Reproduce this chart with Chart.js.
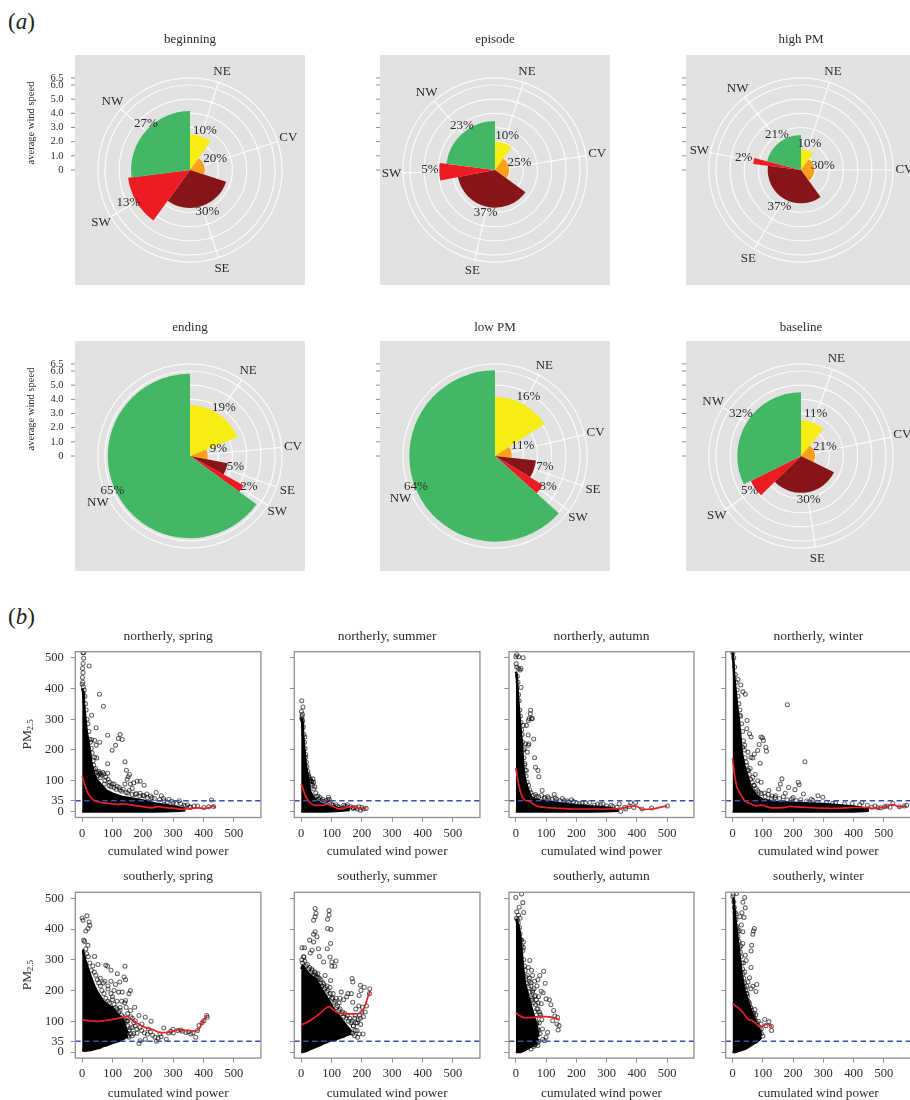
<!DOCTYPE html>
<html><head><meta charset="utf-8">
<script src="https://cdn.jsdelivr.net/npm/chart.js@4"></script>
<style>
html,body{margin:0;padding:0;background:#fff;overflow:hidden;width:910px;height:1100px}
#page{position:relative;width:910px;height:1100px;overflow:hidden}
canvas{position:absolute}
.tag{position:absolute;left:8px;font:23px "Liberation Serif",serif;color:#222;line-height:26px}
.tag i{font-style:italic}
</style></head><body>
<div id="page">
<div class="tag" style="top:9px">(<i>a</i>)</div>
<div class="tag" style="top:604px">(<i>b</i>)</div>
</div>
<script>
// ---------- part (a): wind roses ----------
const windDirs = ['NE','CV','SE','SW','NW'];
const windColors = ['#f7ec13','#f9a11b','#871416','#ed1c24','#43b864'];
const speedTicks = [0,1,2,3,4,5,6,6.5];
const speedTickLabels = ['0','1.0','2.0','3.0','4.0','5.0','6.0','6.5'];

const beginningShare = [10,20,30,13,27];
const beginningSpeed = [2.5,1.05,2.68,4.4,4.16];
const beginningPctAt = [3.0,1.95,3.15,4.9,4.5];
const beginningPctDeg = [20.4,65.6,157.2,242.3,316.3];
const episodeShare = [10,25,37,5,23];
const episodeSpeed = [2.0,1.0,2.66,3.93,3.46];
const episodePctAt = [2.6,1.8,3.1,4.6,3.9];
const episodePctDeg = [19.4,73.2,192.2,270,323.1];
const highShare = [10,30,37,2,21];
const highSpeed = [1.46,0.94,2.35,3.4,2.47];
const highPctAt = [1.93,1.58,3.0,4.14,3.0];
const highPctDeg = [17.8,78.9,210.6,282.1,325.6];
const endingShare = [19,9,5,2,65];
const endingSpeed = [3.58,1.24,2.7,4.3,5.8];
const endingPctAt = [4.2,2.07,3.3,4.7,6.0];
const endingPctDeg = [34.8,75.5,103.6,117.6,245.8];
const lowShare = [16,11,7,3,64];
const lowSpeed = [4.16,1.18,2.9,3.95,6.05];
const lowPctAt = [4.8,2.1,3.6,4.35,6.0];
const lowPctDeg = [29.4,68.9,102.4,120.2,248.7];
const baseShare = [11,21,30,5,32];
const baseSpeed = [2.5,1.0,2.6,3.96,4.5];
const basePctAt = [3.16,1.8,3.1,4.36,5.2];
const basePctDeg = [19.1,69.2,170,236.2,305.5];

// ---------- part (b): PM2.5 against cumulated wind power ----------
const powerTicks = [0,100,200,300,400,500];
const pmTicks = [0,35,100,200,300,400,500];
const pmStandard = 35;

const nSpringCloudX = [0,3,6,10,15,20,25,30,40,50,60,80,100,130,160,200,240,280,320,340];
const nSpringCloudTop = [400,390,350,310,260,230,200,160,120,100,90,68,58,48,43,36,26,20,13,8];
const nSpringCloudLow = [0,0,0,0,0,0,0,0,0,0,0,0,0,0,0,0,0,1,2,4];
const nSpringPoints = [[3,516],[5,516],[5,498],[3,481],[1,465],[23,473],[3,451],[1,436],[0,414],[57,381],[70,342],[31,313],[46,272],[58,225],[84,248],[125,250],[119,237],[132,234],[110,215],[99,199],[141,162],[84,155],[146,134],[156,120],[152,113],[148,105],[191,98],[181,98],[204,85],[170,93],[159,89],[141,89],[41,231],[31,233],[46,215],[41,176],[48,174],[39,136],[68,127],[84,124],[57,122],[52,117],[105,89],[89,84],[73,89],[122,78],[165,75],[191,59],[213,57],[244,62],[261,51],[286,40],[320,35],[347,22],[380,18],[426,37],[433,16],[401,13],[369,18],[417,15],[356,13],[60,110],[75,100],[95,80],[112,72],[130,66],[150,60],[175,55],[205,50],[230,45],[270,35],[300,28],[335,20]];
const nSpringEdge = [[2,420],[4,405],[7,395],[9,375],[11,350],[13,330],[16,300],[19,285],[22,260],[24,235],[27,225],[30,205],[33,190],[36,165],[38,150],[44,140],[47,128],[52,125],[55,130],[60,125],[65,118],[72,122],[78,112],[85,105],[90,95],[98,90],[105,78],[115,82],[125,70],[135,72],[145,62],[155,68],[165,55],[178,58],[190,50],[200,52],[215,45],[225,50],[238,42],[255,38],[268,42],[280,30],[295,33],[310,25],[325,25],[340,18],[355,15]];
const nSpringCurve = [[0,115],[5,100],[10,82],[15,68],[20,58],[30,44],[40,36],[60,30],[80,27],[100,25],[120,23],[130,25],[150,23],[170,20],[200,16],[230,12],[250,16],[270,13],[300,11],[330,7],[350,9],[380,12],[400,10],[420,13],[430,18],[440,12]];

const nSummerCloudX = [0,3,6,10,15,20,25,30,40,50,60,80,100,130,160];
const nSummerCloudTop = [305,295,255,210,155,125,90,65,47,37,26,20,16,9,7];
const nSummerCloudLow = [0,0,0,0,0,0,0,0,0,0,0,0,1,2,5];
const nSummerPoints = [[2,360],[6,340],[4,316],[2,302],[12,242],[15,176],[23,120],[39,106],[33,89],[42,73],[58,40],[90,46],[93,40],[82,35],[109,15],[131,8],[152,22],[163,15],[179,13],[195,4],[214,10],[200,13],[190,15],[136,11],[30,100],[36,96],[26,110],[50,48],[66,36],[72,32],[100,24],[120,18],[145,18],[172,10],[185,8],[205,8]];
const nSummerEdge = [[1,325],[3,310],[5,295],[7,275],[9,250],[11,225],[13,205],[15,185],[17,160],[19,145],[22,130],[25,115],[28,100],[31,105],[34,98],[37,85],[41,95],[45,80],[48,60],[55,50],[62,45],[70,40],[78,30],[88,38],[95,30],[105,20],[115,22],[125,14],[140,20],[150,15],[170,12]];
const nSummerCurve = [[0,90],[5,78],[10,62],[15,50],[20,40],[30,28],[40,22],[50,20],[70,20],[85,24],[100,18],[120,10],[135,8],[155,14],[175,14],[195,10],[215,12]];

const nAutumnCloudX = [0,3,6,10,15,20,25,30,40,50,60,80,100,150,200,250,300,340];
const nAutumnCloudTop = [455,445,395,335,275,225,145,105,72,48,40,36,33,26,20,16,13,6];
const nAutumnCloudLow = [0,0,0,0,0,0,0,0,0,0,0,0,0,0,0,0,1,2];
const nAutumnPoints = [[3,510],[0,503],[9,503],[24,500],[9,465],[17,465],[14,460],[17,403],[49,329],[48,318],[44,302],[52,302],[55,302],[41,296],[35,280],[25,280],[41,249],[59,236],[32,220],[41,215],[43,220],[28,204],[38,193],[62,175],[65,144],[73,133],[76,113],[30,155],[35,133],[87,68],[127,55],[154,42],[184,38],[95,46],[68,49],[245,29],[202,26],[288,24],[342,24],[380,29],[396,29],[347,0],[363,8],[390,13],[501,18],[417,8],[449,11],[110,44],[135,40],[170,34],[220,28],[270,24],[315,20],[360,14],[375,16]];
const nAutumnEdge = [[1,480],[3,470],[5,440],[7,420],[9,380],[11,360],[13,330],[15,310],[17,290],[19,265],[21,250],[23,225],[25,200],[27,175],[29,150],[31,135],[34,115],[38,95],[42,85],[46,70],[50,62],[58,52],[65,55],[75,48],[85,52],[95,42],[105,48],[120,40],[130,44],[145,35],[160,36],[175,30],[190,32],[210,25],[230,28],[260,20],[280,22],[300,18],[320,16],[335,14]];
const nAutumnCurve = [[0,142],[3,125],[6,105],[10,85],[15,65],[20,50],[30,37],[45,33],[60,22],[80,15],[100,13],[150,10],[200,8],[250,8],[300,8],[340,9],[360,13],[380,17],[395,18],[420,7],[450,8],[480,14],[500,18]];

const nWinterCloudX = [0,3,6,10,15,20,25,30,40,50,60,80,100,150,200,250,300,350,400,450];
const nWinterCloudTop = [520,485,435,395,345,305,255,195,145,115,78,52,38,30,28,26,24,20,16,8];
const nWinterCloudLow = [0,0,0,0,0,0,0,0,0,0,0,0,0,0,0,0,0,0,0,2];
const nWinterPoints = [[181,347],[239,162],[18,429],[27,411],[42,381],[34,389],[24,313],[48,296],[47,269],[56,253],[61,242],[94,242],[99,240],[102,231],[88,218],[110,209],[112,196],[83,198],[72,187],[61,176],[91,157],[40,215],[34,209],[51,193],[67,174],[53,133],[67,111],[83,100],[94,95],[72,84],[61,78],[83,68],[120,68],[163,106],[158,89],[152,73],[185,78],[217,95],[220,87],[206,71],[234,57],[282,51],[298,46],[142,51],[174,59],[330,26],[427,29],[470,18],[529,26],[567,18],[502,15],[551,15],[480,12],[520,14],[575,20],[45,160],[58,140],[75,120],[105,60],[130,50],[200,45],[260,40]];
const nWinterEdge = [[1,515],[4,500],[7,470],[9,445],[12,420],[15,395],[18,375],[21,350],[24,330],[27,310],[30,285],[33,260],[36,230],[39,200],[42,175],[46,150],[50,135],[55,120],[60,105],[65,95],[70,85],[78,75],[88,62],[95,58],[108,48],[118,55],[128,42],[140,45],[155,42],[168,48],[180,38],[195,40],[210,35],[225,38],[245,34],[265,36],[280,30],[310,30],[340,28],[370,24],[395,26],[420,22],[445,20],[460,14],[490,12],[510,18]];
const nWinterCurve = [[0,172],[3,150],[6,125],[10,100],[15,78],[20,68],[30,50],[40,35],[50,28],[60,25],[80,18],[85,20],[100,20],[115,15],[130,12],[150,12],[180,14],[190,17],[210,15],[250,13],[300,11],[350,10],[400,13],[440,13],[460,10],[500,14],[530,22],[550,15],[570,18]];

const sSpringCloudX = [0,3,10,20,30,40,50,60,70,80,100,120,135,140,150];
const sSpringCloudTop = [330,330,300,270,240,215,195,180,165,155,145,120,105,90,60];
const sSpringCloudLow = [5,5,4,6,7,10,12,15,20,22,30,36,42,45,52];
const sSpringPoints = [[0,436],[16,443],[3,429],[23,423],[25,412],[19,402],[12,394],[5,364],[19,347],[41,311],[52,285],[78,282],[84,279],[141,279],[95,266],[116,255],[138,244],[143,235],[124,228],[159,200],[154,190],[132,195],[105,200],[143,168],[173,146],[187,119],[208,113],[227,100],[197,91],[218,75],[181,61],[165,53],[187,28],[191,37],[208,42],[240,48],[245,35],[269,78],[256,59],[277,42],[299,74],[315,70],[342,64],[358,59],[374,48],[385,86],[401,102],[412,113],[410,119],[380,70],[159,135],[148,102],[175,102],[138,70],[154,48],[127,59],[60,240],[70,225],[85,205],[100,180],[115,165],[125,145],[150,125],[165,110],[190,80],[225,65],[260,50],[300,62],[330,68],[365,62],[395,95]];
const sSpringEdge = [[60,215],[65,200],[72,190],[78,175],[85,165],[90,160],[95,190],[100,170],[105,155],[110,145],[115,140],[120,130],[125,135],[130,120],[135,115],[140,105],[145,100],[150,85],[155,70],[160,60],[150,100],[160,115],[170,95],[175,85],[180,75],[165,80],[170,60],[35,280],[40,260],[45,250],[50,235],[55,225],[25,290],[20,310],[15,320],[12,335],[8,360],[30,265],[75,230],[85,215],[95,230],[110,220],[120,195],[130,165],[140,160],[145,145],[90,45],[105,42],[120,46],[135,50],[150,52],[148,62],[158,78],[196,70],[205,62],[215,58],[232,55],[250,45],[285,62],[292,68],[325,72],[350,66]];
const sSpringCurve = [[0,105],[20,102],[50,100],[80,103],[110,108],[130,112],[150,115],[165,105],[180,95],[200,83],[230,74],[260,63],[280,63],[300,68],[320,73],[345,70],[370,68],[385,75],[395,95],[412,121]];

const sSummerCloudX = [0,5,10,20,30,50,70,90,110,130,150,165];
const sSummerCloudTop = [270,280,275,260,250,235,200,170,135,110,85,65];
const sSummerCloudLow = [0,0,2,5,10,18,27,35,40,47,55,60];
const sSummerPoints = [[46,467],[49,451],[46,440],[41,429],[92,460],[92,446],[87,432],[87,402],[98,399],[46,391],[41,383],[52,375],[28,364],[41,358],[97,353],[3,339],[11,339],[57,336],[86,336],[36,331],[30,322],[9,309],[60,311],[95,309],[101,293],[115,296],[74,293],[101,279],[111,279],[79,249],[168,239],[170,228],[97,233],[195,217],[208,211],[197,200],[226,206],[154,190],[132,195],[165,190],[191,184],[170,162],[202,146],[211,130],[138,81],[165,64],[176,53],[191,59],[204,59],[186,48],[138,53],[111,42],[62,26],[122,59],[180,140],[190,150],[178,120],[195,110],[185,95],[172,85],[205,115],[215,150],[225,190],[150,180],[140,170],[128,175]];
const sSummerEdge = [[2,300],[5,290],[8,310],[12,295],[16,280],[20,285],[24,270],[28,275],[32,260],[36,265],[40,250],[44,250],[48,255],[52,245],[56,240],[60,240],[64,225],[68,215],[72,225],[76,205],[80,210],[84,195],[88,200],[92,180],[96,190],[100,175],[104,175],[108,160],[112,165],[116,145],[120,150],[124,135],[128,140],[132,125],[136,130],[140,115],[144,125],[148,110],[152,118],[156,100],[160,110],[164,95],[168,100],[172,85],[176,110],[180,95],[184,70],[188,105],[192,120],[196,90],[200,130],[100,55],[108,60],[116,70],[124,80],[130,65],[142,70],[150,65],[158,70],[170,60],[178,70],[35,270],[45,260],[55,255],[65,235],[75,220],[85,215],[95,210],[105,190],[115,175],[125,160]];
const sSummerCurve = [[0,88],[20,97],[40,110],[60,124],[80,142],[92,148],[105,138],[120,128],[140,125],[165,124],[190,125],[200,132],[210,150],[220,180],[228,199]];

const sAutumnCloudX = [0,3,10,15,20,25,30,40,50,60,70,75];
const sAutumnCloudTop = [429,429,407,375,320,266,225,185,150,115,80,50];
const sAutumnCloudLow = [0,0,0,0,2,4,6,12,18,24,36,42];
const sAutumnPoints = [[0,503],[19,514],[23,486],[26,454],[11,471],[3,456],[9,445],[14,435],[19,364],[25,358],[25,340],[46,298],[41,275],[52,266],[92,263],[55,249],[79,249],[73,235],[97,224],[84,198],[90,193],[60,206],[65,184],[100,173],[111,170],[84,157],[116,154],[125,135],[52,168],[73,141],[79,124],[129,117],[138,113],[122,102],[136,91],[143,86],[140,72],[105,64],[100,48],[89,42],[95,37],[73,21],[62,23],[62,81],[57,64],[68,91],[45,240],[50,225],[62,230],[70,215],[55,195],[48,180],[75,180],[78,95],[72,75]];
const sAutumnEdge = [[2,435],[5,430],[8,420],[12,405],[14,385],[17,365],[20,345],[23,330],[26,300],[29,280],[31,265],[33,245],[36,225],[38,250],[42,210],[44,230],[47,195],[50,215],[53,175],[56,200],[58,160],[62,180],[65,155],[68,170],[70,140],[74,160],[78,130],[82,120],[86,105],[62,130],[66,110],[70,95],[74,70],[80,60],[88,75],[50,10],[58,18],[64,25],[70,30],[76,35]];
const sAutumnCurve = [[0,128],[10,120],[25,113],[40,112],[60,113],[80,115],[100,115],[120,113],[135,108],[145,104]];

const sWinterCloudX = [0,3,10,15,20,25,30,40,50,60,70,80,90,95];
const sWinterCloudTop = [500,500,429,385,342,298,255,200,168,135,113,91,70,53];
const sWinterCloudLow = [0,0,0,2,4,5,7,10,15,22,28,33,42,48];
const sWinterPoints = [[2,513],[13,516],[40,503],[34,487],[42,469],[31,453],[24,440],[38,438],[29,413],[18,391],[34,391],[72,402],[69,394],[67,383],[34,353],[63,347],[61,329],[42,315],[45,298],[61,275],[56,242],[51,228],[67,214],[80,220],[77,197],[61,206],[74,138],[77,121],[106,106],[120,99],[94,91],[128,84],[129,70],[110,86],[83,70],[61,37],[72,53],[48,190],[45,170],[55,160],[60,145],[70,125],[85,100],[95,75]];
const sWinterEdge = [[1,505],[4,490],[6,470],[8,455],[11,430],[13,410],[16,400],[18,375],[21,360],[23,340],[26,325],[28,310],[31,290],[33,270],[35,255],[37,240],[39,225],[41,210],[44,200],[46,190],[49,180],[52,165],[55,155],[58,145],[62,135],[65,125],[68,118],[72,110],[76,102],[80,95],[85,85],[90,72],[95,60],[100,52],[40,260],[36,290],[28,345],[22,395],[12,450],[47,215]];
const sWinterCurve = [[0,157],[10,150],[20,143],[35,128],[50,108],[65,102],[75,95],[90,82],[100,84],[110,90],[120,90],[130,82]];

// ---------- layout and styling ----------
const SERIF = '"Liberation Serif", "Times New Roman", serif';
const TEXT = '#2b2b2b';
const polarPanels = [
  {title:'beginning',left:75,top:55,gap:15,share:beginningShare,speed:beginningSpeed,pctAt:beginningPctAt,pctDeg:beginningPctDeg,axis:true},
  {title:'episode',left:380,top:55,gap:15,share:episodeShare,speed:episodeSpeed,pctAt:episodePctAt,pctDeg:episodePctDeg},
  {title:'high PM',left:686,top:55,gap:15,share:highShare,speed:highSpeed,pctAt:highPctAt,pctDeg:highPctDeg},
  {title:'ending',left:75,top:341,gap:13,share:endingShare,speed:endingSpeed,pctAt:endingPctAt,pctDeg:endingPctDeg,axis:true},
  {title:'low PM',left:380,top:341,gap:13,share:lowShare,speed:lowSpeed,pctAt:lowPctAt,pctDeg:lowPctDeg},
  {title:'baseline',left:686,top:341,gap:13,share:baseShare,speed:baseSpeed,pctAt:basePctAt,pctDeg:basePctDeg}
];
const frameLefts = [75.3,294.3,509,725.7];
const rowTops = [{top:651.7,foot:41.5},{top:892.3,foot:42.9}];
const scatterPanels = [
  {title:'northerly, spring',c:0,r:0,x:nSpringCloudX,hi:nSpringCloudTop,lo:nSpringCloudLow,pts:nSpringPoints.concat(nSpringEdge),curve:nSpringCurve},
  {title:'northerly, summer',c:1,r:0,x:nSummerCloudX,hi:nSummerCloudTop,lo:nSummerCloudLow,pts:nSummerPoints.concat(nSummerEdge),curve:nSummerCurve},
  {title:'northerly, autumn',c:2,r:0,x:nAutumnCloudX,hi:nAutumnCloudTop,lo:nAutumnCloudLow,pts:nAutumnPoints.concat(nAutumnEdge),curve:nAutumnCurve},
  {title:'northerly, winter',c:3,r:0,x:nWinterCloudX,hi:nWinterCloudTop,lo:nWinterCloudLow,pts:nWinterPoints.concat(nWinterEdge),curve:nWinterCurve},
  {title:'southerly, spring',c:0,r:1,x:sSpringCloudX,hi:sSpringCloudTop,lo:sSpringCloudLow,pts:sSpringPoints.concat(sSpringEdge),curve:sSpringCurve},
  {title:'southerly, summer',c:1,r:1,x:sSummerCloudX,hi:sSummerCloudTop,lo:sSummerCloudLow,pts:sSummerPoints.concat(sSummerEdge),curve:sSummerCurve},
  {title:'southerly, autumn',c:2,r:1,x:sAutumnCloudX,hi:sAutumnCloudTop,lo:sAutumnCloudLow,pts:sAutumnPoints.concat(sAutumnEdge),curve:sAutumnCurve},
  {title:'southerly, winter',c:3,r:1,x:sWinterCloudX,hi:sWinterCloudTop,lo:sWinterCloudLow,pts:sWinterPoints.concat(sWinterEdge),curve:sWinterCurve}
];
const page = document.getElementById('page');
function addCanvas(l,t,w,h){
  const c=document.createElement('canvas');
  c.width=w;c.height=h;c.style.left=l+'px';c.style.top=t+'px';c.style.width=w+'px';c.style.height=h+'px';
  page.appendChild(c);return c;
}
Chart.defaults.font.family = SERIF;
Chart.defaults.animation = false;

// wind rose
function rosePlugin(p){
  const mids=[];let run=0;const tot=p.share.reduce((a,b)=>a+b,0);
  p.share.forEach(s=>{mids.push((run+s/2)/tot*360);run+=s;});
  function at(sc,deg,v){const d=sc.getDistanceFromCenterForValue(v),a=deg*Math.PI/180;
    return [sc.xCenter+d*Math.sin(a),sc.yCenter-d*Math.cos(a)];}
  return {id:'rose',
    beforeDraw(ch){const a=ch.chartArea,x=ch.ctx;x.save();x.fillStyle='#e2e2e2';x.fillRect(a.left,a.top,a.width,a.height);x.restore();},
    beforeDatasetsDraw(ch){
      const sc=ch.scales.r,x=ch.ctx;x.save();x.strokeStyle='rgba(255,255,255,.9)';x.lineWidth=1.2;
      mids.forEach(m=>{const e=at(sc,m,6.5);x.beginPath();x.moveTo(sc.xCenter,sc.yCenter);x.lineTo(e[0],e[1]);x.stroke();});
      x.restore();
    },
    afterDatasetsDraw(ch){
      const sc=ch.scales.r,x=ch.ctx,a=ch.chartArea;x.save();
      x.fillStyle=TEXT;x.textAlign='center';x.textBaseline='middle';x.font='13px '+SERIF;
      mids.forEach((m,i)=>{
        const t=at(sc,m,7.3);x.fillText(windDirs[i],t[0],t[1]);
        const q=at(sc,p.pctDeg[i],p.pctAt[i]);x.fillText(p.share[i]+'%',q[0],q[1]);
      });
      x.font='13px '+SERIF;x.fillText(p.title,(a.left+a.right)/2,a.top-p.gap);
      x.strokeStyle='#8c8c8c';x.lineWidth=1;
      speedTicks.forEach((v,i)=>{
        const y=sc.yCenter-sc.getDistanceFromCenterForValue(v);
        x.beginPath();x.moveTo(a.left-4,y);x.lineTo(a.left,y);x.stroke();
        if(p.axis){x.textAlign='right';x.font='10.5px '+SERIF;x.fillStyle=TEXT;x.fillText(speedTickLabels[i],a.left-11.5,y);}
      });
      if(p.axis){x.translate(a.left-44,sc.yCenter-47);x.rotate(-Math.PI/2);x.textAlign='center';x.font='10.5px '+SERIF;x.fillText('average wind speed',0,0);}
      x.restore();
    }};
}
polarPanels.forEach(p=>{
  const tot=p.share.reduce((a,b)=>a+b,0);
  const c=addCanvas(p.left-75,p.top-30,305,260);
  new Chart(c,{type:'polarArea',
    data:{labels:windDirs,datasets:[{data:p.speed,backgroundColor:windColors,borderWidth:0,
      angle:p.share.map(s=>s/tot*360)}]},
    options:{responsive:false,devicePixelRatio:1,
      layout:{padding:{left:75,top:30,right:0,bottom:0}},
      plugins:{legend:{display:false},tooltip:{enabled:false}},
      scales:{r:{min:0,max:8.116,startAngle:0,
        afterBuildTicks(s){s.ticks=speedTicks.map(v=>({value:v}));},
        ticks:{display:false},angleLines:{display:false},pointLabels:{display:false},
        grid:{circular:true,color:'rgba(255,255,255,.9)',lineWidth:1.2}}}},
    plugins:[rosePlugin(p)]});
});

// scatter panels
function framePlugin(p){
  return {id:'frame',
    afterDatasetsDraw(ch){
      const a=ch.chartArea,x=ch.ctx;x.save();
      x.strokeStyle='#8f8f8f';x.lineWidth=1.3;x.strokeRect(a.left,a.top,a.width,a.height);
      x.fillStyle=TEXT;x.textAlign='center';x.textBaseline='middle';x.font='13.5px '+SERIF;
      x.fillText(p.title,(a.left+a.right)/2,a.top-15.5);
      if(p.c===0){
        x.translate(27,(a.top+a.bottom)/2);x.rotate(-Math.PI/2);
        x.textAlign='left';x.font='13.5px '+SERIF;x.fillText('PM',-15,0);
        x.font='9px '+SERIF;x.fillText('2.5',4,4);
      }
      x.restore();
    }};
}
scatterPanels.forEach(p=>{
  const fl=frameLefts[p.c],row=rowTops[p.r],cl=Math.floor(fl-75.3),ct=Math.floor(row.top-30);
  const lw=fl-cl,tw=row.top-ct;
  const h=Math.ceil(tw+165+row.foot),w=Math.ceil(lw+190);
  const c=addCanvas(cl,ct,w,h);
  const xy=(xs,ys)=>xs.map((v,i)=>({x:v,y:ys[i]}));
  const obj=a=>a.map(q=>({x:q[0],y:q[1]}));
  new Chart(c,{type:'scatter',
    data:{datasets:[
      {order:4,data:xy(p.x,p.lo),showLine:true,pointRadius:0,borderColor:'#000',borderWidth:2.5},
      {order:3,data:xy(p.x,p.hi),showLine:true,pointRadius:0,borderColor:'#000',borderWidth:2.5,fill:'-1',backgroundColor:'#000'},
      {order:2,data:obj(p.pts),showLine:false,pointRadius:2,pointBorderWidth:1.05,pointBorderColor:'rgba(0,0,0,.6)',pointBackgroundColor:'rgba(0,0,0,0)'},
      {order:1,data:[{x:-23,y:pmStandard},{x:589,y:pmStandard}],showLine:true,pointRadius:0,borderColor:'#3a50a8',borderWidth:1.6,borderDash:[5.5,3.5]},
      {order:0,data:obj(p.curve),showLine:true,pointRadius:0,borderColor:'#e8202a',borderWidth:1.7,cubicInterpolationMode:'monotone'}
    ]},
    options:{responsive:false,devicePixelRatio:1,
      layout:{padding:{left:0,top:tw,right:w-lw-190,bottom:0}},
      plugins:{legend:{display:false},tooltip:{enabled:false}},
      scales:{
        x:{type:'linear',min:-22.6,max:589,
          afterBuildTicks(s){s.ticks=powerTicks.map(v=>({value:v}));},
          afterFit(s){s.height=row.foot;},
          ticks:{autoSkip:false,maxRotation:0,padding:4,color:TEXT,font:{size:12.5,family:SERIF}},
          border:{display:false},
          grid:{drawOnChartArea:false,tickLength:4.5,tickColor:'#8f8f8f',color:'#8f8f8f'},
          title:{display:true,text:'cumulated wind power',color:TEXT,padding:0,font:{size:13.2,family:SERIF}}},
        y:{type:'linear',min:-19.6,max:519.6,
          afterBuildTicks(s){s.ticks=pmTicks.map(v=>({value:v}));},
          afterFit(s){s.width=lw;},
          ticks:{autoSkip:false,padding:7,color:TEXT,font:{size:12.5,family:SERIF},
            callback(v){return p.c===0?String(v):'';}},
          border:{display:false},
          grid:{drawOnChartArea:false,tickLength:4.5,tickColor:'#8f8f8f',color:'#8f8f8f'}}
      }},
    plugins:[framePlugin(p)]});
});
</script>
</body></html>
